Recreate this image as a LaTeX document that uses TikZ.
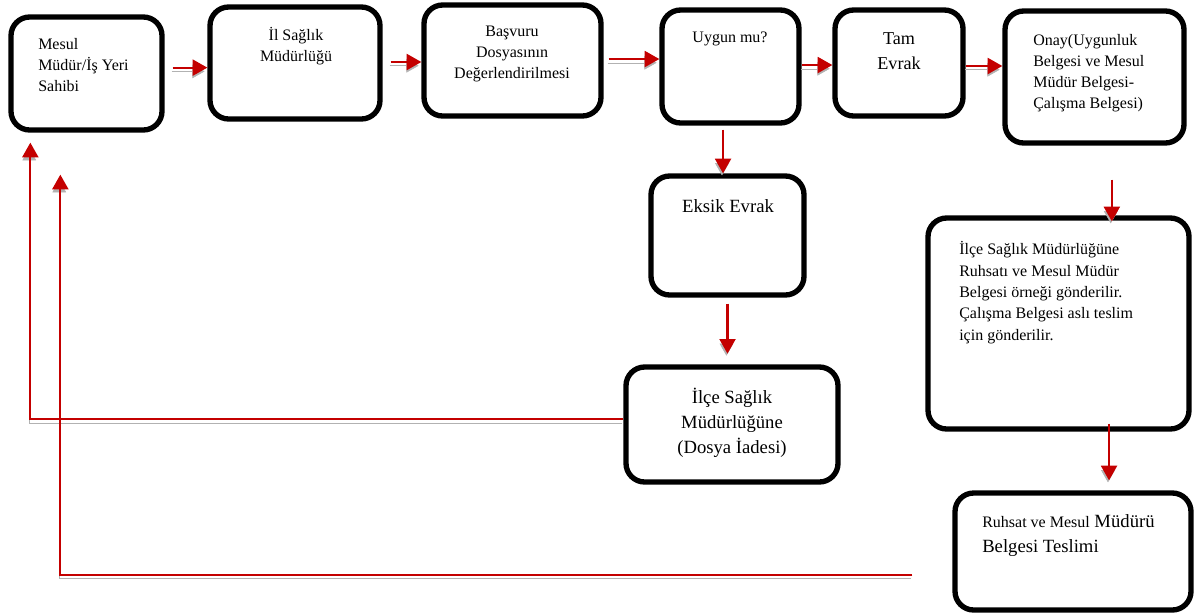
\documentclass[tikz,border=0pt]{standalone}
\usepackage{fontspec}
\setmainfont{Liberation Serif}
\usepackage{tikz}
\usetikzlibrary{
    arrows.meta,
    positioning,
    fit,
    calc
}
\definecolor{flowred}{RGB}{196,0,0}

\begin{document}
\begin{tikzpicture}[x=0.75pt,y=-0.75pt,
  box/.style={draw, line width=4pt, rounded corners=14pt, inner sep=0pt},
  txt/.style={inner sep=0pt, font=\fontsize{12}{15.75}\selectfont},
  big/.style={inner sep=0pt, font=\fontsize{14}{18.5}\selectfont},
  flow/.style={draw=flowred, line width=1.6pt, -{Triangle[length=11pt,width=12pt]},
    preaction={draw=black!30, transform canvas={xshift=-0.8pt,yshift=-2.8pt}}}]
  \useasboundingbox (0,0) rectangle (1195,615);
  \node[box, fit={(11,17) (162,130)}]    (mesul)   {};
  \node[box, fit={(210,7) (380,119)}]    (il)      {};
  \node[box, fit={(424,5) (601,116)}]    (basvuru) {};
  \node[box, fit={(662,10) (799,123)}]   (uygun)   {};
  \node[box, fit={(835,10) (963,116)}]   (tam)     {};
  \node[box, fit={(1005,11) (1184,143)}] (onay)    {};
  \node[box, fit={(651,176) (804,295)}]  (eksik)   {};
  \node[box, fit={(626,367) (838,482)}]  (ilce)    {};
  \node[box, fit={(928,218) (1189,429)}] (ilcer)   {};
  \node[box, fit={(955,493) (1191,610)}] (ruhsat)  {};

  \node[txt, anchor=base west, align=left] (mesul-t) at (38,91) {Mesul\\Müdür/İş Yeri\\Sahibi};
  \node[txt, anchor=base, align=center] (il-t) at (296,61) {İl Sağlık\\Müdürlüğü};
  \node[txt, anchor=base, align=center] (basvuru-t) at (512,78) {Başvuru\\Dosyasının\\Değerlendirilmesi};
  \node[txt, anchor=base] (uygun-t) at (730,42) {Uygun mu?};
  \node[inner sep=0pt, font=\fontsize{13.6}{18.75}\selectfont, anchor=base, align=center] (tam-t) at (899,69) {Tam\\Evrak};
  \node[txt, anchor=base west, align=left] (onay-t) at (1033,108) {Onay(Uygunluk\\Belgesi ve Mesul\\Müdür Belgesi-\\Çalışma Belgesi)};
  \node[big, anchor=base] (eksik-t) at (728,212) {Eksik Evrak};
  \node[big, anchor=base, align=center] (ilce-t) at (732,453) {İlçe Sağlık\\Müdürlüğüne\\(Dosya İadesi)};
  \node[inner sep=0pt, font=\fontsize{12}{16}\selectfont, anchor=base west, align=left] (ilcer-t) at (959,340)
    {İlçe Sağlık Müdürlüğüne\\Ruhsatı ve Mesul Müdür\\Belgesi örneği gönderilir.\\Çalışma Belgesi aslı teslim\\için gönderilir.};
  \node[inner sep=0pt, font=\fontsize{14}{18.75}\selectfont, anchor=base west, align=left] (ruhsat-t) at (982,552)
    {{\fontsize{12}{15}\selectfont Ruhsat ve Mesul} Müdürü\\Belgesi Teslimi};

  \foreach \a/\b/\dy/\g in {mesul/il/4.4/6, il/basvuru/0.75/6, basvuru/uygun/1.1/3.75, uygun/tam/1.1/0, tam/onay/-2.25/0}
    \draw[flow, shorten <=\g pt] ([yshift=\dy pt]\a.east) -- ([yshift=\dy pt]\a.east -| \b.west);
  \draw[flow, shorten <=3pt] ([xshift=-5.6pt]uygun.south) -- ([xshift=-5.6pt]uygun.south |- eksik.north);
  \draw[flow, shorten <=4.5pt, shorten >=8pt] (eksik.south) -- (eksik.south |- ilce.north);
  \draw[flow, shorten <=25.5pt, shorten >=-4.5pt] ([xshift=13pt]onay.south) -- ([xshift=13pt]onay.south |- ilcer.north);
  \draw[flow, shorten <=-6pt, shorten >=7.5pt] ([xshift=37.9pt]ilcer.south) -- ([xshift=37.9pt]ilcer.south |- ruhsat.north);
  \coordinate (ret) at ([xshift=-30pt,yshift=-17.6pt]ruhsat.west);
  \draw[flow, shorten >=7.5pt] ([yshift=4.1pt]ilce.west) -| ([xshift=16.5pt]mesul.south west);
  \draw[flow, shorten >=31.5pt] (ret) -| ([xshift=39pt]mesul.south west);
\end{tikzpicture}
\end{document}
